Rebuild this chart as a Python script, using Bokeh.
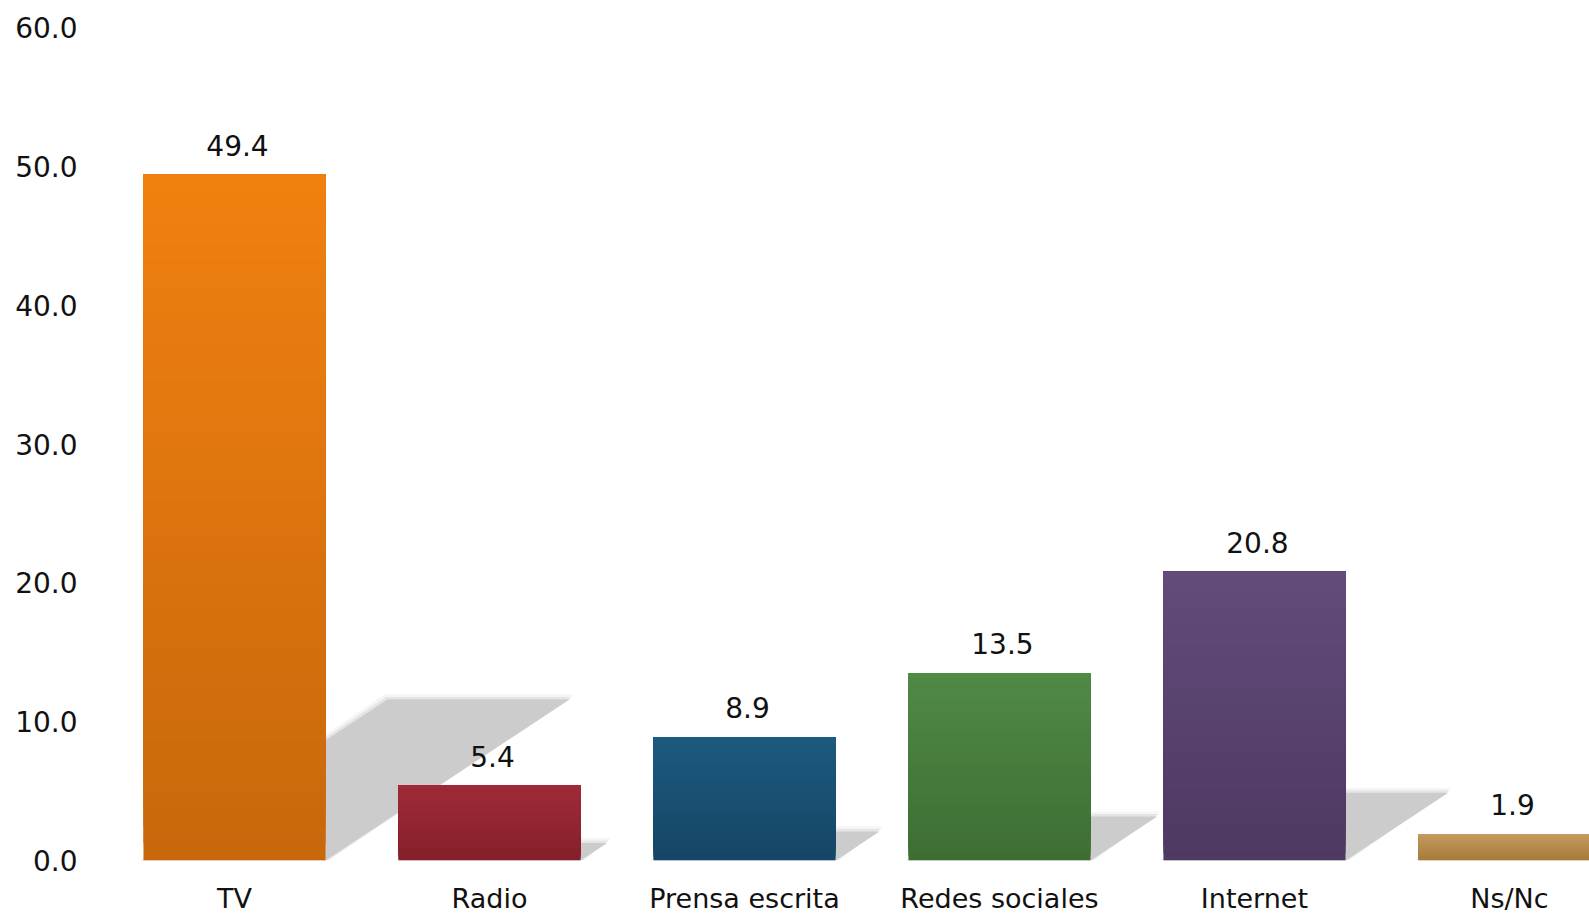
from bokeh.plotting import figure
from bokeh.models import Range1d, FixedTicker, NumeralTickFormatter, ColumnDataSource
from bokeh.core.properties import value
from bokeh.embed import file_html
from bokeh.resources import INLINE

# ---- data ----
categories = ["TV", "Radio", "Prensa escrita", "Redes sociales", "Internet", "Ns/Nc"]
values = [49.4, 5.4, 8.9, 13.5, 20.8, 1.9]
value_labels = ["49.4", "5.4", "8.9", "13.5", "20.8", "1.9"]
y_ticks = [0, 10, 20, 30, 40, 50, 60]

# ---- style ----
top_colors = ["#F18110", "#9F2A37", "#1D5A7F", "#508A45", "#634B7A", "#C49B5E"]
bottom_colors = ["#C7670C", "#84202B", "#164565", "#3E6D34", "#4E3962", "#A77A3A"]
FONT = "DejaVu Sans"
BAR_W = 0.714
N_SLICES = 40


def hex2rgb(h):
    h = h.lstrip("#")
    return tuple(int(h[i:i + 2], 16) for i in (0, 2, 4))


def mix(c1, c2, t):
    a, b = hex2rgb(c1), hex2rgb(c2)
    return "#%02x%02x%02x" % tuple(int(round(a[i] + (b[i] - a[i]) * t)) for i in range(3))


xs = list(range(len(categories)))

p = figure(width=1589, height=916, output_backend="svg", toolbar_location=None,
           x_range=Range1d(-0.5255, 5.314), y_range=Range1d(0, 60.65),
           min_border_left=100, min_border_right=0, min_border_top=18, min_border_bottom=55)
p.outline_line_color = None
p.grid.visible = False
p.background_fill_color = "white"
p.border_fill_color = "white"

# ---- shadows (cast up and to the right from each bar) ----
shadow_xs, shadow_ys = [], []
for x, v in zip(xs, values):
    l, r = x - BAR_W / 2, x + BAR_W / 2
    dx = 0.0194 * v
    dy = 0.235 * v
    shadow_xs.append([l, r, r + dx, l + dx])
    shadow_ys.append([0, 0, dy, dy])
for grow, alpha in [(0.014, 0.18), (0.007, 0.35)]:
    gx = [[pts[0] - grow, pts[1] + grow, pts[2] + grow, pts[3] - grow] for pts in shadow_xs]
    gy = [[pts[0], pts[1], pts[2] + grow * 25, pts[3] + grow * 25] for pts in shadow_ys]
    p.patches(gx, gy, fill_color="#c8c8c8", fill_alpha=alpha, line_color=None)
p.patches(shadow_xs, shadow_ys, fill_color="#cccccc", line_color=None)

# ---- gradient bars (each slice runs to the bar top, later slices cover earlier ones) ----
sx, sb, st, sc = [], [], [], []
for x, v, ct, cb in zip(xs, values, top_colors, bottom_colors):
    for k in range(N_SLICES):
        sx.append(x)
        sb.append(v * k / N_SLICES)
        st.append(v)
        sc.append(mix(cb, ct, (k + 0.5) / N_SLICES))
src = ColumnDataSource(dict(x=sx, bottom=sb, top=st, color=sc))
p.vbar(x="x", bottom="bottom", top="top", width=BAR_W, fill_color="color",
       line_color=None, source=src)

# ---- value labels ----
lab = ColumnDataSource(dict(x=xs, y=values, t=value_labels))
p.text(x="x", y="y", text="t", source=lab, text_align="center", text_baseline="bottom",
       y_offset=-19, x_offset=3, text_font=value(FONT), text_font_size="28px",
       text_color="#111111")

# ---- axes ----
p.xaxis.ticker = FixedTicker(ticks=xs)
p.xaxis.major_label_overrides = {i: c for i, c in enumerate(categories)}
p.yaxis.ticker = FixedTicker(ticks=y_ticks)
p.yaxis.formatter = NumeralTickFormatter(format="0.0")
for ax in (p.xaxis, p.yaxis):
    ax.axis_line_color = None
    ax.major_tick_line_color = None
    ax.minor_tick_line_color = None
    ax.major_tick_out = 0
    ax.major_tick_in = 0
    ax.major_label_text_font = FONT
    ax.major_label_text_color = "#111111"
p.xaxis.major_label_text_font_size = "27px"
p.yaxis.major_label_text_font_size = "28px"
p.yaxis.major_label_standoff = 23
p.xaxis.major_label_standoff = 22

open("out.html", "w").write(file_html(p, INLINE))
